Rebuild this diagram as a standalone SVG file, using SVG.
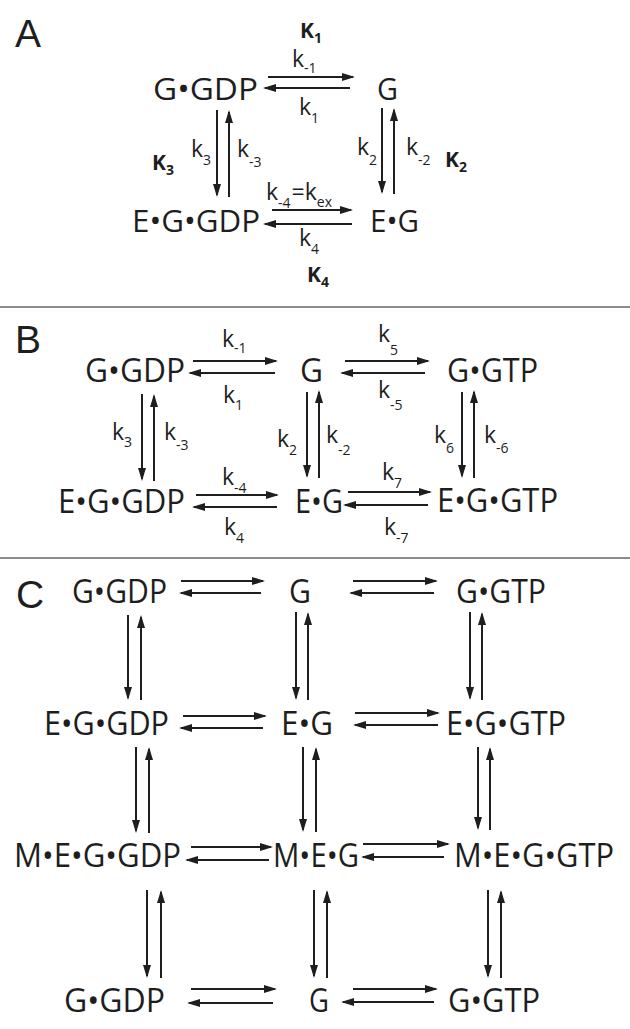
<svg xmlns="http://www.w3.org/2000/svg" width="630" height="1029" viewBox="0 0 630 1029">
<defs>
<marker id="ah" markerUnits="userSpaceOnUse" viewBox="0 0 13 8" markerWidth="13" markerHeight="8" refX="11" refY="4" orient="auto">
<path d="M0,0 L13,4 L0,8 z" fill="#1e1e1e"/>
</marker>
<style>
.n{font-family:"Open Sans","Liberation Sans",sans-serif;font-size:31px;fill:#1e1e1e}
.nb{font-size:33px}
.k{font-family:"Open Sans","Liberation Sans",sans-serif;font-size:23px;fill:#1e1e1e}
.s{font-size:14px}
.K{font-family:"Open Sans","Liberation Sans",sans-serif;font-weight:bold;font-size:21px;fill:#1e1e1e}
.Ks{font-size:14px}
.p{font-family:"Liberation Sans",Arial,sans-serif;font-size:39px;fill:#1e1e1e}
.a{stroke:#1e1e1e;stroke-width:2;fill:none;marker-end:url(#ah)}
.sep{stroke:#8c8c8c;stroke-width:2}
</style>
</defs>
<rect width="630" height="1029" fill="#fff"/>
<line class="sep" x1="0" y1="307" x2="630" y2="307"/>
<line class="sep" x1="0" y1="558" x2="630" y2="558"/>
<text class="p" x="15" y="47">A</text>
<text class="p" x="15" y="353">B</text>
<text class="p" x="16" y="608">C</text>

<!-- Panel A nodes -->
<g id="A_GGDP"><text class="n" x="153" y="100" textLength="105" lengthAdjust="spacingAndGlyphs">G•GDP</text></g>
<g id="A_G"><text class="n" x="377" y="100" textLength="21" lengthAdjust="spacingAndGlyphs">G</text></g>
<g id="A_EGGDP"><text class="n" x="132" y="232" textLength="128" lengthAdjust="spacingAndGlyphs">E•G•GDP</text></g>
<g id="A_EG"><text class="n" x="370" y="232" textLength="49" lengthAdjust="spacingAndGlyphs">E•G</text></g>

<!-- Panel B nodes -->
<g id="B_GGDP"><text class="n nb" x="85" y="382" textLength="100" lengthAdjust="spacingAndGlyphs">G•GDP</text></g>
<g id="B_G"><text class="n nb" x="300" y="382" textLength="23" lengthAdjust="spacingAndGlyphs">G</text></g>
<g id="B_GGTP"><text class="n nb" x="447" y="382" textLength="91" lengthAdjust="spacingAndGlyphs">G•GTP</text></g>
<g id="B_EGGDP"><text class="n nb" x="58" y="513" textLength="127" lengthAdjust="spacingAndGlyphs">E•G•GDP</text></g>
<g id="B_EG"><text class="n nb" x="295" y="513" textLength="48" lengthAdjust="spacingAndGlyphs">E•G</text></g>
<g id="B_EGGTP"><text class="n nb" x="437" y="512" textLength="121" lengthAdjust="spacingAndGlyphs">E•G•GTP</text></g>

<!-- Panel C nodes -->
<g id="C_GGDP1"><text class="n nb" x="72" y="603" textLength="95" lengthAdjust="spacingAndGlyphs">G•GDP</text></g>
<g id="C_G1"><text class="n nb" x="289" y="603" textLength="22" lengthAdjust="spacingAndGlyphs">G</text></g>
<g id="C_GGTP1"><text class="n nb" x="456" y="603" textLength="90" lengthAdjust="spacingAndGlyphs">G•GTP</text></g>
<g id="C_EGGDP"><text class="n nb" x="44" y="735" textLength="125" lengthAdjust="spacingAndGlyphs">E•G•GDP</text></g>
<g id="C_EG"><text class="n nb" x="281" y="735" textLength="52" lengthAdjust="spacingAndGlyphs">E•G</text></g>
<g id="C_EGGTP"><text class="n nb" x="446" y="735" textLength="120" lengthAdjust="spacingAndGlyphs">E•G•GTP</text></g>
<g id="C_MEGGDP"><text class="n nb" x="14" y="867" textLength="167" lengthAdjust="spacingAndGlyphs">M•E•G•GDP</text></g>
<g id="C_MEG"><text class="n nb" x="273" y="867" textLength="86" lengthAdjust="spacingAndGlyphs">M•E•G</text></g>
<g id="C_MEGGTP"><text class="n nb" x="454" y="867" textLength="160" lengthAdjust="spacingAndGlyphs">M•E•G•GTP</text></g>
<g id="C_GGDP2"><text class="n nb" x="64" y="1012" textLength="101" lengthAdjust="spacingAndGlyphs">G•GDP</text></g>
<g id="C_G2"><text class="n nb" x="309" y="1012" textLength="20" lengthAdjust="spacingAndGlyphs">G</text></g>
<g id="C_GGTP2"><text class="n nb" x="448" y="1012" textLength="92" lengthAdjust="spacingAndGlyphs">G•GTP</text></g>

<g id="connectors">
<!-- Panel A -->
<line class="a" x1="268" y1="77" x2="353" y2="77"/>
<line class="a" x1="350" y1="88" x2="265" y2="88"/>
<line class="a" x1="217" y1="110" x2="217" y2="195"/>
<line class="a" x1="229" y1="197" x2="229" y2="112"/>
<line class="a" x1="382" y1="108" x2="382" y2="192"/>
<line class="a" x1="394" y1="194" x2="394" y2="110"/>
<line class="a" x1="272" y1="210" x2="351" y2="210"/>
<line class="a" x1="352" y1="224" x2="265" y2="224"/>
<!-- Panel B -->
<line class="a" x1="193" y1="361" x2="276" y2="361"/>
<line class="a" x1="275" y1="373" x2="190" y2="373"/>
<line class="a" x1="345" y1="361" x2="428" y2="361"/>
<line class="a" x1="425" y1="373" x2="342" y2="373"/>
<line class="a" x1="142" y1="394" x2="142" y2="479"/>
<line class="a" x1="154" y1="481" x2="154" y2="396"/>
<line class="a" x1="307" y1="392" x2="307" y2="476"/>
<line class="a" x1="319" y1="478" x2="319" y2="392"/>
<line class="a" x1="462" y1="392" x2="462" y2="476"/>
<line class="a" x1="474" y1="478" x2="474" y2="392"/>
<line class="a" x1="196" y1="495" x2="277" y2="495"/>
<line class="a" x1="277" y1="507" x2="194" y2="507"/>
<line class="a" x1="348" y1="492" x2="430" y2="492"/>
<line class="a" x1="428" y1="505" x2="345" y2="505"/>
<!-- Panel C -->
<line class="a" x1="181" y1="581" x2="263" y2="581"/>
<line class="a" x1="261" y1="593" x2="181" y2="593"/>
<line class="a" x1="353" y1="581" x2="436" y2="581"/>
<line class="a" x1="434" y1="593" x2="351" y2="593"/>
<line class="a" x1="128" y1="615" x2="128" y2="698"/>
<line class="a" x1="141" y1="700" x2="141" y2="617"/>
<line class="a" x1="296" y1="612" x2="296" y2="698"/>
<line class="a" x1="308" y1="700" x2="308" y2="614"/>
<line class="a" x1="470" y1="612" x2="470" y2="698"/>
<line class="a" x1="482" y1="700" x2="482" y2="614"/>
<line class="a" x1="183" y1="716" x2="265" y2="716"/>
<line class="a" x1="263" y1="728" x2="181" y2="728"/>
<line class="a" x1="355" y1="713" x2="438" y2="713"/>
<line class="a" x1="438" y1="725" x2="355" y2="725"/>
<line class="a" x1="136" y1="747" x2="136" y2="831"/>
<line class="a" x1="149" y1="833" x2="149" y2="749"/>
<line class="a" x1="303" y1="747" x2="303" y2="830"/>
<line class="a" x1="316" y1="832" x2="316" y2="749"/>
<line class="a" x1="478" y1="747" x2="478" y2="828"/>
<line class="a" x1="490" y1="830" x2="490" y2="749"/>
<line class="a" x1="191" y1="847" x2="271" y2="847"/>
<line class="a" x1="269" y1="860" x2="187" y2="860"/>
<line class="a" x1="363" y1="844" x2="448" y2="844"/>
<line class="a" x1="444" y1="857" x2="363" y2="857"/>
<line class="a" x1="147" y1="890" x2="147" y2="976"/>
<line class="a" x1="161" y1="978" x2="161" y2="892"/>
<line class="a" x1="314" y1="890" x2="314" y2="976"/>
<line class="a" x1="327" y1="978" x2="327" y2="892"/>
<line class="a" x1="488" y1="890" x2="488" y2="976"/>
<line class="a" x1="501" y1="978" x2="501" y2="892"/>
<line class="a" x1="191" y1="989" x2="275" y2="989"/>
<line class="a" x1="273" y1="1003" x2="189" y2="1003"/>
<line class="a" x1="353" y1="989" x2="436" y2="989"/>
<line class="a" x1="434" y1="1002" x2="343" y2="1002"/>
</g>

<g id="labels">
<!-- Panel A -->
<text class="K" x="300" y="38">K<tspan class="Ks" y="43">1</tspan></text>
<text class="k" x="292" y="67">k<tspan class="s" y="73">-1</tspan></text>
<text class="k" x="299" y="115">k<tspan class="s" y="123">1</tspan></text>
<text class="K" x="152" y="170">K<tspan class="Ks" y="175">3</tspan></text>
<text class="k" x="191" y="157">k<tspan class="s" y="165">3</tspan></text>
<text class="k" x="237" y="157">k<tspan class="s" y="167">-3</tspan></text>
<text class="k" x="357" y="155">k<tspan class="s" y="165">2</tspan></text>
<text class="k" x="406" y="155">k<tspan class="s" y="165">-2</tspan></text>
<text class="K" x="445" y="167">K<tspan class="Ks" y="172">2</tspan></text>
<text class="k" x="266" y="200">k<tspan class="s" y="208">-4</tspan><tspan dx="1" y="200">=k</tspan><tspan class="s" y="207">ex</tspan></text>
<text class="k" x="299" y="246">k<tspan class="s" y="254">4</tspan></text>
<text class="K" x="307" y="282">K<tspan class="Ks" y="287">4</tspan></text>
<!-- Panel B -->
<text class="k" x="222" y="347">k<tspan class="s" y="353">-1</tspan></text>
<text class="k" x="378" y="342">k<tspan class="s" y="355">5</tspan></text>
<text class="k" x="223" y="403">k<tspan class="s" y="410">1</tspan></text>
<text class="k" x="378" y="398">k<tspan class="s" y="410">-5</tspan></text>
<text class="k" x="112" y="440">k<tspan class="s" y="447">3</tspan></text>
<text class="k" x="164" y="440">k<tspan class="s" y="450">-3</tspan></text>
<text class="k" x="277" y="447">k<tspan class="s" y="455">2</tspan></text>
<text class="k" x="326" y="443">k<tspan class="s" y="455">-2</tspan></text>
<text class="k" x="434" y="443">k<tspan class="s" y="453">6</tspan></text>
<text class="k" x="484" y="443">k<tspan class="s" y="453">-6</tspan></text>
<text class="k" x="222" y="485">k<tspan class="s" y="493">-4</tspan></text>
<text class="k" x="382" y="480">k<tspan class="s" y="488">7</tspan></text>
<text class="k" x="224" y="535">k<tspan class="s" y="543">4</tspan></text>
<text class="k" x="384" y="535">k<tspan class="s" y="543">-7</tspan></text>
</g>
</svg>
